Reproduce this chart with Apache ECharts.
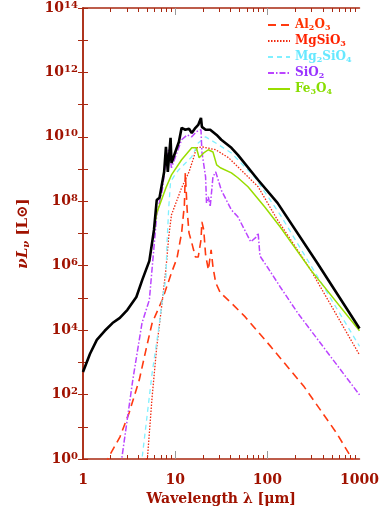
<!DOCTYPE html>
<html><head><meta charset="utf-8">
<script src="https://cdn.jsdelivr.net/npm/echarts@6/dist/echarts.min.js"></script>
<style>html,body{margin:0;padding:0;background:#fff}#c{width:382px;height:513px}</style>
</head><body><div id="c"></div>
<script>
// x: log10(wavelength / micron), y: log10(nu L_nu / L_sun)
var xTickLabels = ['1', '10', '100', '1000'];
var xTickExps = [0, 1, 2, 3];
var yTickExps = [0, 2, 4, 6, 8, 10, 12, 14];

var totalX = [0, 0.075, 0.15, 0.236, 0.32, 0.40, 0.482, 0.579, 0.643, 0.72, 0.77, 0.80, 0.83, 0.88, 0.90, 0.92, 0.95, 0.96, 1.01, 1.04, 1.07, 1.11, 1.15, 1.18, 1.22, 1.25, 1.28, 1.29, 1.33, 1.38, 1.45, 1.50, 1.61, 1.68, 1.90, 2.11, 2.54, 3.00];
var totalY = [2.70, 3.26, 3.70, 3.98, 4.22, 4.38, 4.63, 5.03, 5.56, 6.15, 7.11, 8.04, 8.11, 8.91, 9.69, 8.91, 9.97, 9.19, 9.60, 9.84, 10.28, 10.22, 10.25, 10.12, 10.28, 10.37, 10.59, 10.31, 10.22, 10.22, 10.06, 9.91, 9.66, 9.44, 8.66, 7.95, 6.09, 4.05];

var al2o3X = [0.24, 0.29, 0.40, 0.50, 0.61, 0.69, 0.75, 0.86, 0.96, 1.02, 1.07, 1.10, 1.11, 1.13, 1.15, 1.18, 1.20, 1.22, 1.25, 1.28, 1.29, 1.31, 1.33, 1.36, 1.39, 1.41, 1.44, 1.49, 1.61, 1.76, 2.04, 2.40, 2.75, 2.92, 2.95];
var al2o3Y = [-0.2, 0.12, 0.68, 1.43, 2.45, 3.48, 4.22, 4.94, 5.78, 6.24, 7.02, 7.89, 8.88, 7.73, 7.02, 6.71, 6.49, 6.27, 6.27, 6.80, 7.36, 7.11, 6.34, 5.87, 6.49, 5.96, 5.47, 5.16, 4.84, 4.41, 3.48, 2.24, 0.81, 0.0, -0.2];

var mgsio3X = [0.67, 0.70, 0.75, 0.80, 0.86, 0.90, 0.93, 0.96, 1.07, 1.15, 1.20, 1.23, 1.29, 1.44, 1.58, 1.68, 1.90, 2.11, 2.47, 3.00];
var mgsio3Y = [-0.1, 0.06, 1.93, 3.48, 4.90, 5.90, 6.90, 7.58, 8.42, 8.91, 9.35, 9.66, 9.69, 9.60, 9.35, 9.07, 8.45, 7.42, 5.87, 3.23];

var mg2sio4X = [0.63, 0.64, 0.75, 0.83, 0.86, 0.90, 0.91, 0.93, 0.95, 0.99, 1.04, 1.18, 1.25, 1.33, 1.44, 1.61, 1.86, 2.14, 3.00];
var mg2sio4Y = [-0.2, 0.0, 2.67, 4.22, 4.94, 5.62, 6.60, 7.80, 8.60, 8.79, 8.98, 9.38, 9.81, 10.0, 9.81, 9.50, 8.76, 7.58, 3.50];

var sio2X = [0.41, 0.42, 0.54, 0.64, 0.72, 0.77, 0.80, 0.86, 0.90, 0.93, 0.96, 1.01, 1.07, 1.13, 1.18, 1.23, 1.28, 1.29, 1.33, 1.34, 1.36, 1.38, 1.41, 1.44, 1.50, 1.61, 1.68, 1.82, 1.88, 1.90, 1.92, 2.00, 2.14, 2.33, 3.00];
var sio2Y = [-0.2, 0.0, 2.45, 4.22, 4.94, 6.58, 7.58, 8.35, 9.29, 9.60, 9.04, 9.44, 9.91, 10.06, 10.0, 10.16, 10.22, 9.53, 8.76, 7.95, 8.14, 7.83, 8.76, 8.91, 8.35, 7.73, 7.52, 6.74, 6.89, 7.02, 6.30, 5.96, 5.34, 4.53, 1.99];

var fe3o4X = [0.77, 0.80, 0.90, 0.96, 1.07, 1.18, 1.23, 1.26, 1.31, 1.36, 1.41, 1.45, 1.49, 1.61, 1.68, 1.79, 1.97, 2.14, 2.47, 3.00];
var fe3o4Y = [7.11, 7.64, 8.42, 8.82, 9.29, 9.66, 9.66, 9.35, 9.50, 9.60, 9.53, 9.13, 9.04, 8.88, 8.73, 8.45, 7.83, 7.20, 5.87, 3.98];

var legendRich = {
  Al2O3: '{n|Al}{s|2}{n|O}{s|3}',
  MgSiO3: '{n|MgSiO}{s|3}',
  Mg2SiO4: '{n|Mg}{s|2}{n|SiO}{s|4}',
  SiO2: '{n|SiO}{s|2}',
  Fe3O4: '{n|Fe}{s|3}{n|O}{s|4}'
};

function pairs(xs, ys) { return xs.map(function (x, i) { return [x, ys[i]]; }); }

var minorX = [];
[0, 1, 2].forEach(function (d) { for (var k = 2; k <= 9; k++) minorX.push(d + Math.log10(k)); });

var AX = '#a82810';
var TXT = '#a01200';
var FONT = 'DejaVu Serif';

var sup = { fontSize: 10, fontWeight: 'bold', color: TXT, fontFamily: FONT, verticalAlign: 'top', padding: [0, 0, 6, 0] };

var chart = echarts.init(document.getElementById('c'), null, { renderer: 'canvas' });
chart.setOption({
  animation: false,
  backgroundColor: '#fff',
  grid: { left: 83, right: 19, top: 8, bottom: 54 },
  legend: {
    orient: 'vertical', left: 262, top: 14, itemWidth: 22, itemHeight: 10, itemGap: 3.5,
    itemStyle: { opacity: 0 },
    data: [
      { name: 'Al2O3', textStyle: { color: '#ff3300' } },
      { name: 'MgSiO3', textStyle: { color: '#ff2200' } },
      { name: 'Mg2SiO4', textStyle: { color: '#66e8ff' } },
      { name: 'SiO2', textStyle: { color: '#9933ff' } },
      { name: 'Fe3O4', textStyle: { color: '#88dd00' } }
    ],
    formatter: function (n) { return legendRich[n]; },
    textStyle: {
      fontFamily: FONT, fontWeight: 'bold', fontSize: 12,
      rich: {
        n: { fontFamily: FONT, fontWeight: 'bold', fontSize: 12 },
        s: { fontFamily: FONT, fontWeight: 'bold', fontSize: 8, verticalAlign: 'bottom', padding: [5, 0, 0, 0] }
      }
    }
  },
  xAxis: [
    {
      type: 'value', min: 0, max: 3, position: 'bottom',
      name: 'Wavelength λ [μm]', nameLocation: 'middle', nameGap: 33,
      nameTextStyle: { color: TXT, fontFamily: FONT, fontWeight: 'bold', fontSize: 14 },
      axisLine: { show: true, lineStyle: { color: AX, width: 1.5 } },
      axisTick: { show: true, inside: true, length: 4, customValues: minorX, lineStyle: { color: AX } },
      axisLabel: {
        customValues: xTickExps, margin: 14, color: TXT, fontFamily: FONT, fontWeight: 'bold', fontSize: 14,
        formatter: function (v) { return xTickLabels[xTickExps.indexOf(Math.round(v))]; }
      },
      splitLine: { show: false }
    },
    {
      type: 'value', min: 0, max: 3, position: 'bottom',
      axisLine: { show: false },
      axisTick: { show: true, inside: true, length: 8, customValues: [1, 2], lineStyle: { color: '#999' } },
      axisLabel: { show: false }, splitLine: { show: false }
    },
    {
      type: 'value', min: 0, max: 3, position: 'top',
      axisLine: { show: true, lineStyle: { color: AX, width: 1.5 } },
      axisTick: { show: true, inside: true, length: 4, customValues: minorX, lineStyle: { color: AX } },
      axisLabel: { show: false }, splitLine: { show: false }
    },
    {
      type: 'value', min: 0, max: 3, position: 'top',
      axisLine: { show: false },
      axisTick: { show: true, inside: true, length: 7, customValues: [1, 2], lineStyle: { color: '#999' } },
      axisLabel: { show: false }, splitLine: { show: false }
    }
  ],
  yAxis: [
    {
      type: 'value', min: 0, max: 14, interval: 1, position: 'left',
      name: '{i|νL}{sub|ν}{r| [L⊙]}', nameLocation: 'middle', nameGap: 52, nameRotate: 90,
      nameTextStyle: {
        color: TXT, fontFamily: FONT, fontWeight: 'bold', fontSize: 15,
        rich: {
          i: { fontFamily: FONT, fontStyle: 'italic', fontWeight: 'bold', fontSize: 15, color: TXT },
          sub: { fontFamily: FONT, fontStyle: 'italic', fontWeight: 'bold', fontSize: 10, color: TXT, verticalAlign: 'bottom', padding: [6, 0, 0, 0] },
          r: { fontFamily: FONT, fontWeight: 'bold', fontSize: 15, color: TXT }
        }
      },
      axisLine: { show: true, lineStyle: { color: AX, width: 1.5 } },
      axisTick: { show: true, inside: true, length: 5, lineStyle: { color: AX } },
      axisLabel: {
        margin: 5, color: TXT, fontFamily: FONT, fontWeight: 'bold', fontSize: 14,
        formatter: function (v) { return yTickExps.indexOf(v) >= 0 ? '{b|10}{p|' + v + '}' : ''; },
        rich: { b: { color: TXT, fontFamily: FONT, fontWeight: 'bold', fontSize: 14 }, p: sup }
      },
      splitLine: { show: false }
    },
    {
      type: 'value', min: 0, max: 14, interval: 1, position: 'right',
      axisLine: { show: true, lineStyle: { color: AX, width: 1.5 } },
      axisTick: { show: true, inside: true, length: 5, lineStyle: { color: AX } },
      axisLabel: { show: false }, splitLine: { show: false }
    }
  ],
  series: [
    { name: 'Al2O3', type: 'line', data: pairs(al2o3X, al2o3Y), symbol: 'none', z: 3,
      lineStyle: { color: '#ff3a10', width: 1.6, type: [8, 5] }, itemStyle: { color: '#ff3a10' } },
    { name: 'MgSiO3', type: 'line', data: pairs(mgsio3X, mgsio3Y), symbol: 'none', z: 3,
      lineStyle: { color: '#f02a10', width: 1.3, type: [1.5, 1.5] }, itemStyle: { color: '#f02a10' } },
    { name: 'Mg2SiO4', type: 'line', data: pairs(mg2sio4X, mg2sio4Y), symbol: 'none', z: 3,
      lineStyle: { color: '#80f0ff', width: 1.3, type: [5, 4] }, itemStyle: { color: '#80f0ff' } },
    { name: 'SiO2', type: 'line', data: pairs(sio2X, sio2Y), symbol: 'none', z: 3,
      lineStyle: { color: '#bb44ff', width: 1.5, type: [6, 2, 1.5, 2] }, itemStyle: { color: '#bb44ff' } },
    { name: 'Fe3O4', type: 'line', data: pairs(fe3o4X, fe3o4Y), symbol: 'none', z: 3,
      lineStyle: { color: '#99dd00', width: 1.5 }, itemStyle: { color: '#99dd00' } },
    { name: 'Total', type: 'line', data: pairs(totalX, totalY), symbol: 'none', z: 4,
      lineStyle: { color: '#000', width: 2.6 }, itemStyle: { color: '#000' } }
  ]
});
</script></body></html>
